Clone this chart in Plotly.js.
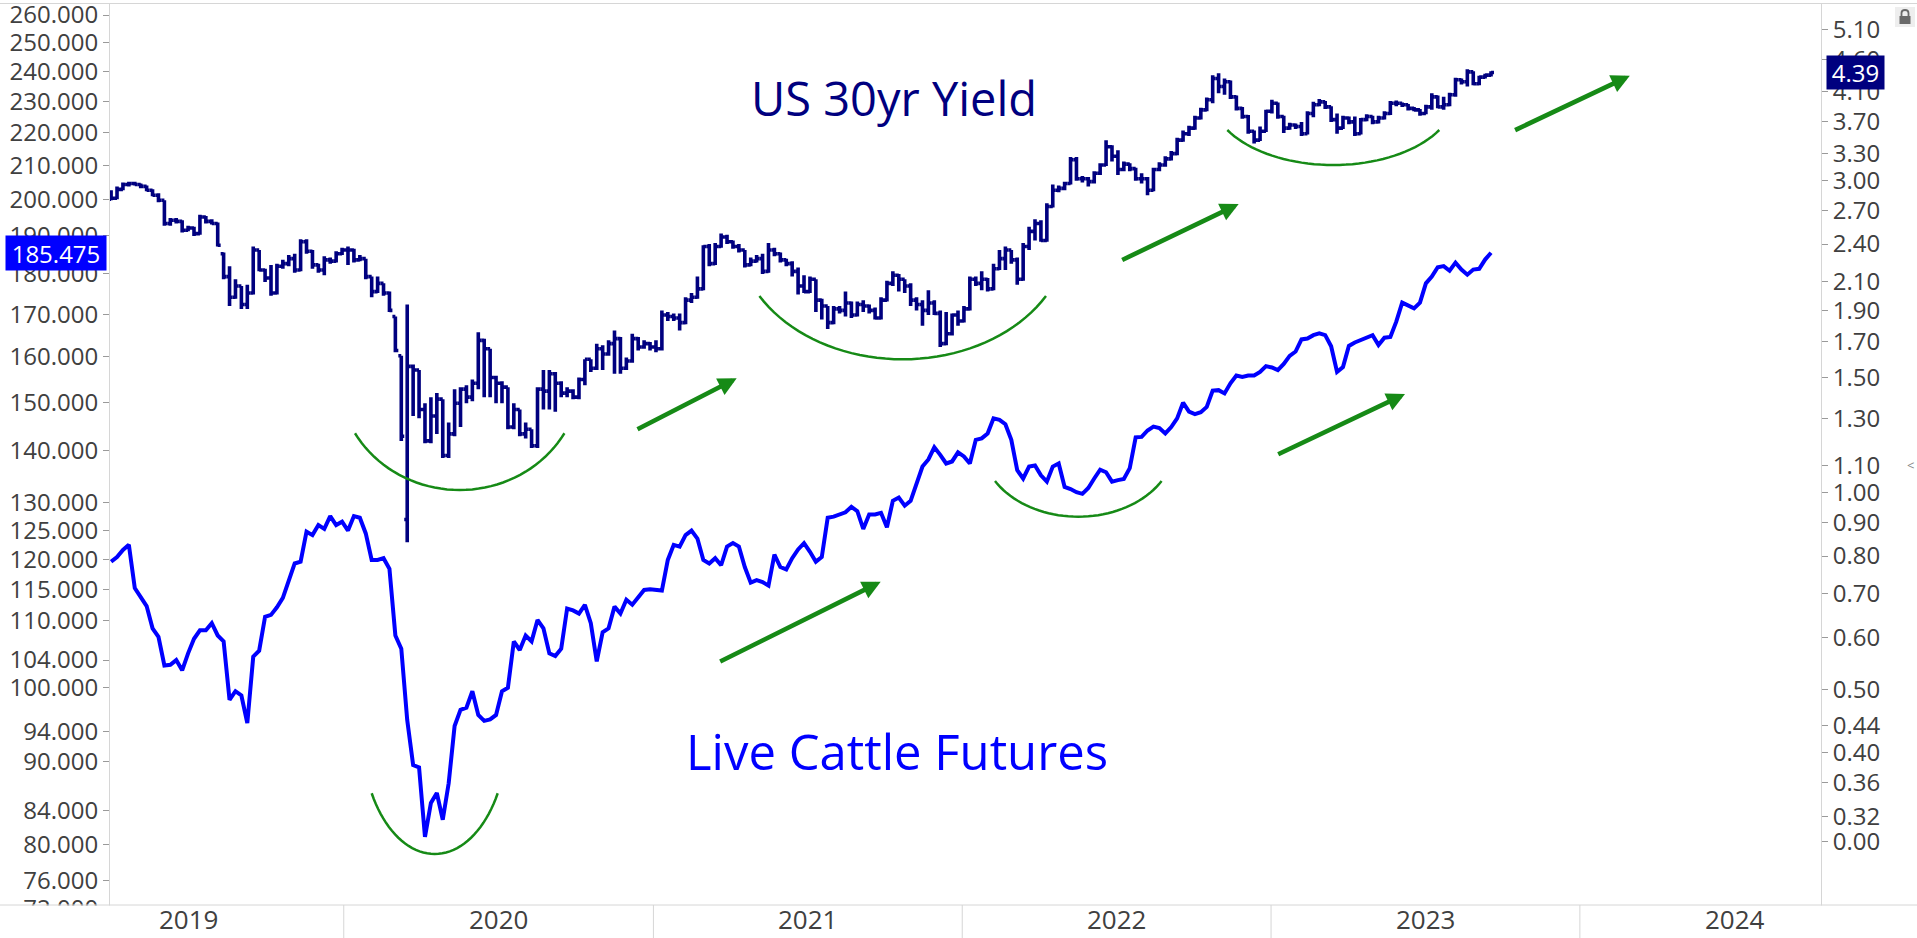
<!DOCTYPE html>
<html>
<head>
<meta charset="utf-8">
<script src="https://cdn.plot.ly/plotly-3.0.1.min.js"></script>
<style>html,body{margin:0;padding:0;background:#fff;}#chart{width:1917px;height:938px;}</style>
</head>
<body>
<div id="chart"></div>
<script>
// ---- Data (weekly) ----
const firstWeek = '2019-04-01';
const weekCount = 234;

const yieldOpen = [2.81,2.82,2.91,2.96,2.97,2.96,2.94,2.90,2.85,2.80,2.58,2.61,2.60,2.52,2.54,2.49,2.64,2.60,2.58,2.32,
2.14,1.99,2.07,1.94,2.02,2.35,2.19,2.13,2.02,2.22,2.24,2.28,2.19,2.42,2.34,2.23,2.19,2.27,2.26,2.32,
2.35,2.35,2.27,2.28,2.14,2.03,2.09,2.02,1.86,1.62,0.91,1.56,1.54,1.34,1.20,1.31,1.39,1.14,1.23,1.37,
1.44,1.40,1.47,1.71,1.66,1.50,1.47,1.45,1.26,1.34,1.23,1.25,1.18,1.44,1.43,1.52,1.47,1.42,1.43,1.40,
1.49,1.60,1.55,1.66,1.63,1.69,1.72,1.55,1.59,1.72,1.67,1.69,1.67,1.66,1.87,1.86,1.85,1.82,1.97,1.99,
2.05,2.38,2.24,2.38,2.46,2.42,2.38,2.35,2.23,2.26,2.28,2.18,2.35,2.32,2.27,2.24,2.18,2.07,2.03,2.12,
1.97,1.93,1.82,1.91,1.90,1.95,1.87,1.94,1.93,1.90,1.85,1.97,2.09,2.15,2.12,2.07,1.97,1.94,1.90,1.95,
1.88,1.69,1.75,1.87,1.83,1.91,2.12,2.09,2.12,2.05,2.20,2.28,2.35,2.27,2.12,2.38,2.51,2.58,2.43,2.74,
2.90,2.92,2.97,3.23,3.02,3.02,2.99,3.08,3.17,3.38,3.27,3.12,3.18,3.13,3.02,3.02,2.90,3.12,3.17,3.24,
3.30,3.46,3.54,3.61,3.74,3.85,3.99,4.30,4.18,4.25,4.03,3.87,3.76,3.57,3.46,3.57,3.83,3.94,3.76,3.61,
3.65,3.63,3.54,3.80,3.92,3.96,3.89,3.72,3.61,3.74,3.69,3.54,3.72,3.76,3.69,3.74,3.80,3.94,3.94,3.92,
3.87,3.85,3.80,3.89,4.03,3.89,3.92,4.06,4.28,4.25,4.40,4.22,4.32,4.35];

const yieldHigh = [2.90,2.94,2.98,2.99,2.99,2.97,2.95,2.91,2.87,2.80,2.63,2.63,2.61,2.56,2.55,2.66,2.65,2.62,2.59,2.33,
2.22,2.12,2.07,2.08,2.38,2.35,2.20,2.23,2.24,2.27,2.31,2.32,2.44,2.44,2.35,2.24,2.30,2.29,2.34,2.37,
2.38,2.36,2.31,2.28,2.14,2.14,2.09,2.03,1.86,1.62,1.94,1.57,1.54,1.37,1.40,1.42,1.39,1.28,1.44,1.45,
1.46,1.49,1.76,1.72,1.66,1.51,1.48,1.45,1.37,1.34,1.28,1.25,1.45,1.54,1.54,1.53,1.48,1.45,1.44,1.50,
1.60,1.60,1.69,1.68,1.71,1.77,1.73,1.61,1.75,1.73,1.71,1.70,1.71,1.90,1.89,1.88,1.88,1.99,2.02,2.14,
2.39,2.40,2.41,2.49,2.48,2.43,2.40,2.35,2.29,2.31,2.32,2.41,2.37,2.33,2.28,2.26,2.21,2.15,2.14,2.12,
1.98,1.93,1.93,1.93,2.03,1.96,1.96,1.97,1.94,1.92,1.99,2.11,2.18,2.16,2.12,2.09,1.99,1.97,2.04,1.97,
1.90,1.89,1.88,1.90,1.93,2.14,2.14,2.18,2.13,2.24,2.35,2.38,2.35,2.29,2.41,2.55,2.62,2.61,2.77,2.96,
2.95,2.99,3.26,3.26,3.05,3.04,3.10,3.19,3.46,3.40,3.34,3.21,3.19,3.14,3.08,3.04,3.14,3.20,3.27,3.33,
3.49,3.58,3.64,3.77,3.88,4.02,4.35,4.38,4.30,4.27,4.05,3.89,3.78,3.58,3.63,3.85,3.99,3.95,3.77,3.68,
3.67,3.69,3.83,3.96,4.00,3.97,3.90,3.80,3.77,3.76,3.76,3.74,3.79,3.77,3.77,3.83,3.97,3.98,3.95,3.93,
3.89,3.86,3.92,4.08,4.05,4.03,4.09,4.31,4.30,4.44,4.41,4.34,4.37,4.41];

const yieldLow = [2.80,2.81,2.90,2.94,2.95,2.92,2.89,2.84,2.78,2.56,2.56,2.58,2.50,2.51,2.47,2.48,2.58,2.57,2.38,2.12,
1.93,1.98,1.91,1.91,2.01,2.18,2.10,2.00,2.01,2.20,2.22,2.17,2.18,2.32,2.20,2.17,2.15,2.24,2.25,2.31,
2.23,2.25,2.26,2.12,1.99,2.02,2.00,1.89,1.64,1.20,0.84,1.31,1.30,1.19,1.19,1.23,1.13,1.13,1.22,1.26,
1.37,1.38,1.44,1.40,1.40,1.37,1.37,1.25,1.25,1.22,1.21,1.17,1.17,1.34,1.34,1.33,1.40,1.40,1.39,1.39,
1.46,1.53,1.54,1.54,1.62,1.52,1.52,1.54,1.58,1.65,1.66,1.65,1.64,1.65,1.83,1.83,1.77,1.81,1.95,1.98,
2.04,2.22,2.23,2.37,2.40,2.36,2.33,2.21,2.22,2.25,2.16,2.17,2.30,2.25,2.22,2.14,2.01,2.02,2.02,1.89,
1.84,1.78,1.81,1.88,1.86,1.85,1.86,1.89,1.88,1.84,1.84,1.96,2.07,2.03,2.02,1.93,1.90,1.80,1.87,1.87,
1.67,1.68,1.74,1.80,1.82,1.90,2.07,2.04,2.03,2.04,2.19,2.19,2.24,2.08,2.11,2.35,2.43,2.42,2.42,2.73,
2.88,2.90,2.96,3.00,2.98,2.94,2.97,3.06,3.16,3.21,3.06,3.10,3.10,3.00,2.97,2.85,2.89,3.10,3.15,3.22,
3.28,3.44,3.51,3.59,3.72,3.83,3.94,4.08,4.06,4.00,3.84,3.73,3.54,3.42,3.45,3.56,3.80,3.73,3.55,3.59,
3.60,3.51,3.53,3.75,3.90,3.86,3.69,3.54,3.60,3.66,3.51,3.53,3.70,3.66,3.67,3.72,3.78,3.90,3.89,3.84,
3.83,3.77,3.79,3.85,3.87,3.85,3.90,4.03,4.21,4.18,4.20,4.20,4.30,4.33];

const yieldClose = [2.82,2.91,2.96,2.97,2.96,2.94,2.90,2.85,2.80,2.58,2.61,2.60,2.52,2.54,2.49,2.64,2.60,2.58,2.39,2.14,
1.99,2.07,1.94,2.02,2.35,2.19,2.13,2.02,2.22,2.24,2.28,2.19,2.42,2.34,2.23,2.19,2.27,2.26,2.32,2.35,
2.35,2.27,2.28,2.14,2.03,2.09,2.02,1.90,1.65,1.22,1.56,1.54,1.34,1.20,1.31,1.39,1.14,1.23,1.37,1.44,
1.40,1.47,1.71,1.66,1.50,1.47,1.45,1.26,1.34,1.23,1.25,1.18,1.44,1.43,1.52,1.47,1.42,1.43,1.40,1.49,
1.60,1.55,1.66,1.63,1.69,1.72,1.55,1.59,1.72,1.67,1.69,1.67,1.66,1.87,1.86,1.85,1.82,1.97,1.99,2.05,
2.38,2.24,2.38,2.46,2.42,2.38,2.35,2.23,2.26,2.28,2.18,2.35,2.32,2.27,2.24,2.18,2.07,2.03,2.12,1.97,
1.93,1.82,1.91,1.90,1.95,1.87,1.94,1.93,1.90,1.85,1.97,2.09,2.15,2.12,2.07,1.97,1.94,1.90,1.95,1.88,
1.69,1.75,1.87,1.83,1.91,2.12,2.09,2.12,2.05,2.20,2.28,2.35,2.27,2.12,2.38,2.51,2.58,2.43,2.74,2.90,
2.92,2.97,3.23,3.02,3.02,2.99,3.08,3.17,3.38,3.27,3.12,3.18,3.13,3.02,3.02,2.90,3.12,3.17,3.24,3.30,
3.46,3.54,3.61,3.74,3.85,3.99,4.30,4.18,4.25,4.03,3.87,3.76,3.57,3.46,3.57,3.83,3.94,3.76,3.61,3.65,
3.63,3.54,3.80,3.92,3.96,3.89,3.72,3.61,3.74,3.69,3.54,3.72,3.76,3.69,3.74,3.80,3.94,3.94,3.92,3.87,
3.85,3.80,3.89,4.03,3.89,3.92,4.06,4.28,4.25,4.40,4.22,4.32,4.35,4.39];

const cattle = [119.6,120.4,121.6,122.5,115.2,113.6,112.3,108.8,107.5,103.2,
103.3,104.0,102.5,105.0,107.2,108.5,108.5,109.6,107.7,106.8,
98.3,99.5,98.9,95.1,104.5,105.4,110.6,110.9,112.1,113.6,
116.2,119.3,119.6,124.8,124.2,126.0,125.3,127.6,126.0,126.6,
125.0,127.6,127.3,124.5,119.9,119.9,120.2,118.4,107.7,105.7,
95.5,89.6,89.3,80.9,84.9,86.1,82.9,87.3,94.7,96.9,
97.2,99.5,96.2,95.4,95.6,96.2,99.5,100.0,106.8,105.5,
107.7,106.8,110.1,108.8,105.0,104.6,105.7,111.9,111.6,111.1,
112.5,109.6,103.8,108.2,108.8,112.2,111.1,113.3,112.5,113.8,
114.9,115.0,114.9,114.8,119.9,122.5,122.2,124.2,125.0,123.6,
119.9,119.3,120.2,119.0,122.2,122.8,122.2,118.7,116.1,116.5,
116.2,115.6,120.8,118.7,118.3,120.2,121.7,122.8,121.3,119.6,
120.4,127.3,127.5,127.9,128.3,129.3,128.5,125.3,127.9,127.9,
128.2,125.6,130.4,131.0,129.5,130.4,133.7,136.9,138.3,140.7,
139.2,137.5,137.9,139.7,138.9,137.5,142.2,142.5,143.5,146.6,
146.3,145.4,142.2,136.2,134.6,136.9,137.1,135.2,134.0,136.9,
137.5,133.0,132.6,132.0,131.7,132.8,134.6,136.3,135.8,134.0,
134.3,134.5,136.6,142.7,142.8,144.1,144.9,144.6,143.5,144.8,
146.6,149.9,148.0,147.5,147.9,149.0,152.5,152.6,151.9,154.1,
155.8,155.5,155.8,155.8,156.6,157.9,157.6,157.0,158.4,160.2,
161.2,164.0,164.2,165.0,165.4,165.0,162.4,156.6,157.7,162.5,
163.3,163.9,164.6,165.0,162.7,164.4,164.6,168.2,172.8,172.2,
171.4,172.8,177.6,179.3,181.7,182.0,180.8,182.9,181.1,179.8,
181.1,181.3,183.7,185.475];

const leftTickVals = [260,250,240,230,220,210,200,190,180,170,160,150,140,130,125,120,115,110,104,100,94,90,84,80,76,73.1];
const leftTickText = ['260.000','250.000','240.000','230.000','220.000','210.000','200.000','190.000','180.000','170.000','160.000','150.000','140.000','130.000','125.000','120.000','115.000','110.000','104.000','100.000','94.000','90.000','84.000','80.000','76.000','72.000'];
const rightTickVals = [5.10,4.60,4.10,3.70,3.30,3.00,2.70,2.40,2.10,1.90,1.70,1.50,1.30,1.10,1.00,0.90,0.80,0.70,0.60,0.50,0.44,0.40,0.36,0.32,0.293];
const rightTickText = ['5.10','4.60','4.10','3.70','3.30','3.00','2.70','2.40','2.10','1.90','1.70','1.50','1.30','1.10','1.00','0.90','0.80','0.70','0.60','0.50','0.44','0.40','0.36','0.32','0.00'];
const yearLabels = ['2019','2020','2021','2022','2023','2024'];
const yearBreaks = ['2020','2021','2022','2023','2024'];

// ---- weekly dates ----
const dates = [];
{
  const d0 = new Date(firstWeek + 'T00:00:00Z');
  for (let i = 0; i < weekCount; i++) {
    const d = new Date(d0.getTime() + i * 7 * 86400000);
    dates.push(d.toISOString().slice(0, 10));
  }
}

// ---- layout geometry helpers (pixels -> paper) ----
const W = 1917, H = 938;
const ML = 110, MR = 96, MT = 4, MB = 8;
const PW = W - ML - MR, PH = H - MT - MB;
const px = v => (v - ML) / PW;
const py = v => (H - MB - v) / PH;

const NAVY = '#00007f', BLUE = '#0000ff', GREEN = '#168a16', TXT = '#404040', AX = '#d6d6d6';
const FONT = 'Open Sans, Roboto, sans-serif';

function arcPath(cx, yEnd, hw, depth) {
  const s = Math.sin(Math.PI / 3);
  const a = hw / s, b = 2 * depth, cy0 = yEnd - depth;
  let p = '';
  for (let k = 0; k <= 40; k++) {
    const phi = -Math.PI / 3 + (2 * Math.PI / 3) * k / 40;
    const x = cx + a * Math.sin(phi), y = cy0 + b * Math.cos(phi);
    p += (k === 0 ? 'M' : 'L') + px(x).toFixed(5) + ',' + py(y).toFixed(5) + ' ';
  }
  return p;
}

const arcs = [
  [459.7, 433.3, 104.7, 56.7],
  [902.7, 296, 143.3, 63.3],
  [1333.3, 130, 106, 35],
  [434.7, 793.3, 63, 60.7],
  [1078.3, 481, 83.3, 35.7]
];
const arrows = [
  [636, 430, 736.7, 378.3],
  [1120.7, 260.7, 1238.7, 204],
  [1513.6, 130.8, 1629.8, 75.8],
  [718.7, 662.3, 880.7, 581.7],
  [1276.7, 455, 1405, 394]
];

const shapes = [];
shapes.push({type:'rect', xref:'paper', yref:'paper', x0:px(0), x1:px(W), y0:py(H), y1:py(905.5), fillcolor:'#ffffff', line:{width:0}, layer:'above'});
shapes.push({type:'line', xref:'paper', yref:'paper', x0:px(0), x1:px(W), y0:py(905), y1:py(905), line:{color:AX, width:1}, layer:'above'});
shapes.push({type:'line', xref:'paper', yref:'paper', x0:px(0), x1:px(W), y0:py(3.5), y1:py(3.5), line:{color:AX, width:1}, layer:'above'});
yearBreaks.forEach(y => shapes.push({type:'line', xref:'x', yref:'paper', x0:y+'-01-01', x1:y+'-01-01', y0:py(905), y1:py(H), line:{color:AX, width:1}, layer:'above'}));
arcs.forEach(a => shapes.push({type:'path', xref:'paper', yref:'paper', path:arcPath(a[0], a[1], a[2], a[3]), line:{color:GREEN, width:2.5}, layer:'above'}));
shapes.push({type:'rect', xref:'paper', yref:'paper', x0:px(1895), x1:px(1915), y0:py(27), y1:py(7), fillcolor:'#eeeeee', line:{width:0}, layer:'above'});
shapes.push({type:'rect', xref:'paper', yref:'paper', x0:px(1899.5), x1:px(1910.5), y0:py(24), y1:py(16), fillcolor:'#6a6a6a', line:{width:0}, layer:'above'});
shapes.push({type:'path', xref:'paper', yref:'paper', path:'M'+px(1901.5)+','+py(16.5)+' L'+px(1901.5)+','+py(13)+' C'+px(1901.5)+','+py(9)+' '+px(1908.5)+','+py(9)+' '+px(1908.5)+','+py(13)+' L'+px(1908.5)+','+py(16.5), line:{color:'#6a6a6a', width:1.8}, layer:'above'});

const annotations = [];
yearLabels.forEach(y => annotations.push({xref:'x', yref:'paper', x:y+'-07-02', y:py(919), text:y, showarrow:false, xanchor:'center', yanchor:'middle', font:{family:FONT, size:26, color:TXT}}));
annotations.push({xref:'paper', yref:'paper', x:px(894), y:py(98), text:'US 30yr Yield', showarrow:false, xanchor:'center', yanchor:'middle', font:{family:FONT, size:47, color:NAVY}});
annotations.push({xref:'paper', yref:'paper', x:px(897), y:py(751), text:'Live Cattle Futures', showarrow:false, xanchor:'center', yanchor:'middle', font:{family:FONT, size:49, color:BLUE}});
arrows.forEach(a => annotations.push({xref:'paper', yref:'paper', x:px(a[2]), y:py(a[3]), ax:a[0]-a[2], ay:a[1]-a[3], axref:'pixel', ayref:'pixel', text:'', showarrow:true, arrowhead:2, arrowsize:0.8, arrowwidth:4.6, arrowcolor:GREEN, standoff:0}));
const lastCattle = cattle[cattle.length - 1];
const lastYield = yieldClose[yieldClose.length - 1];
annotations.push({xref:'paper', yref:'y', x:px(5), y:Math.log10(lastCattle), text:lastCattle.toFixed(3), showarrow:false, xanchor:'left', yanchor:'middle', bgcolor:BLUE, font:{family:FONT, size:24, color:'#ffffff'}, width:96, height:30, borderpad:2, align:'center'});
annotations.push({xref:'paper', yref:'y2', x:px(1826), y:Math.log10(lastYield), text:lastYield.toFixed(2), showarrow:false, xanchor:'left', yanchor:'middle', bgcolor:NAVY, font:{family:FONT, size:24, color:'#ffffff'}, width:53, height:29, borderpad:2, align:'center'});
annotations.push({xref:'paper', yref:'paper', x:px(1910), y:py(465), text:'<', showarrow:false, xanchor:'center', yanchor:'middle', font:{family:FONT, size:13, color:'#888888'}});

const traces = [
  {type:'scatter', mode:'lines', x:dates, y:cattle, yaxis:'y', line:{color:BLUE, width:4}, hoverinfo:'skip', showlegend:false},
  {type:'ohlc', x:dates, open:yieldOpen, high:yieldHigh, low:yieldLow, close:yieldClose, yaxis:'y2',
   increasing:{line:{color:NAVY, width:3.6}}, decreasing:{line:{color:NAVY, width:3.6}}, tickwidth:0.5, hoverinfo:'skip', showlegend:false}
];

const yCommon = {type:'log', showgrid:false, zeroline:false, showline:true, linecolor:AX, linewidth:1,
  ticks:'outside', ticklen:6, tickcolor:'#9a9a9a', tickwidth:1, tickfont:{family:FONT, size:24, color:TXT}, tickmode:'array', ticklabeloverflow:'allow', fixedrange:true};

const layout = {
  width:W, height:H,
  margin:{l:ML, r:MR, t:MT, b:MB, pad:0},
  paper_bgcolor:'#ffffff', plot_bgcolor:'#ffffff',
  showlegend:false,
  xaxis:{type:'date', range:['2019-03-30 17:00', '2024-10-12'], showgrid:false, zeroline:false, showline:false, showticklabels:false, ticks:'', rangeslider:{visible:false}, fixedrange:true},
  yaxis:Object.assign({}, yCommon, {side:'left', range:[1.85052, 2.42177], tickvals:leftTickVals, ticktext:leftTickText}),
  yaxis2:Object.assign({}, yCommon, {side:'right', overlaying:'y', anchor:'x', range:[-0.66873, 0.74731], tickvals:rightTickVals, ticktext:rightTickText}),
  shapes:shapes,
  annotations:annotations
};

Plotly.newPlot('chart', traces, layout, {displayModeBar:false, staticPlot:true});
</script>
</body>
</html>
